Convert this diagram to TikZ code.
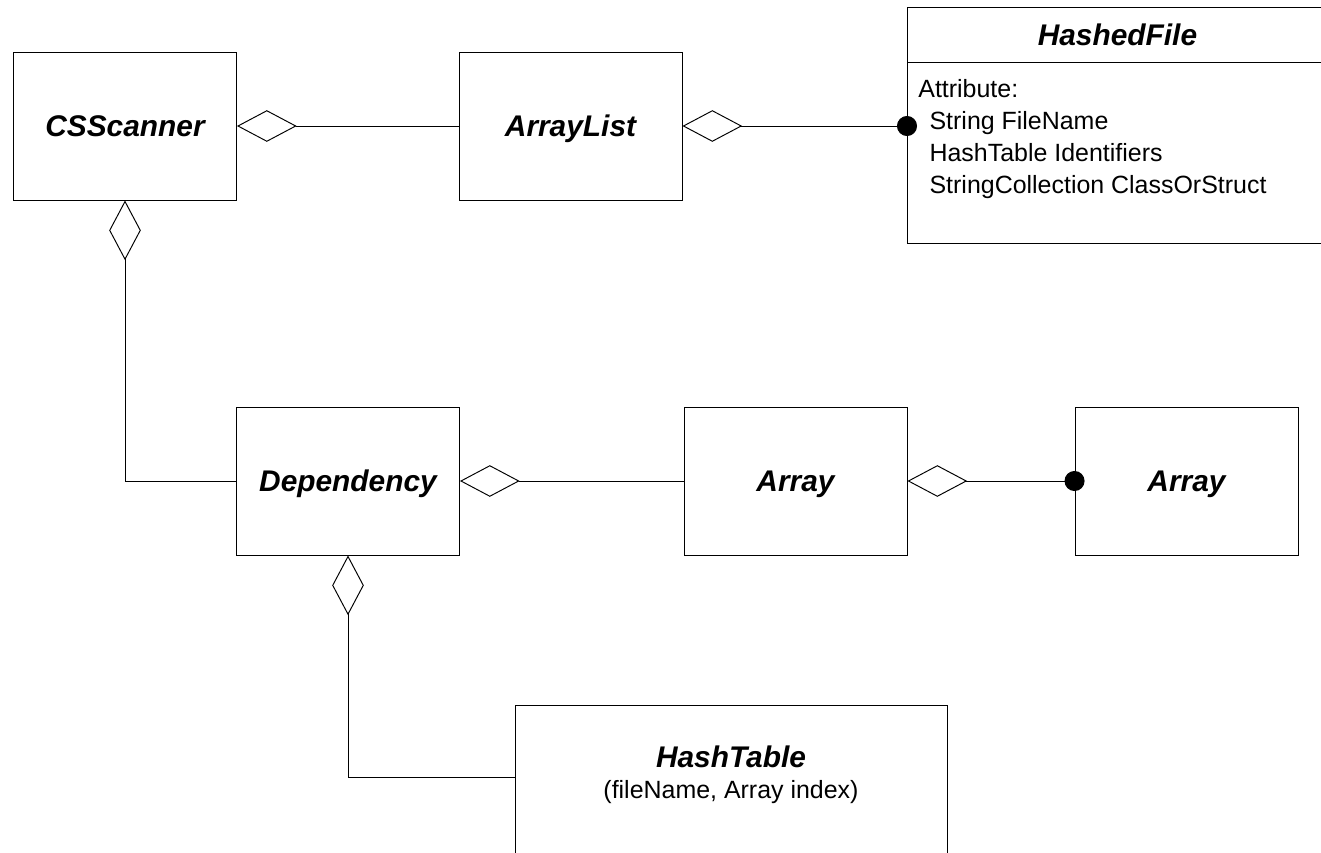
\documentclass[tikz,border=0pt]{standalone}
\usepackage{fontspec}
\setmainfont{Liberation Sans}
\usetikzlibrary{arrows.meta,calc}
\newcommand{\clsfont}{\bfseries\itshape\fontsize{17}{20}\selectfont}
\newcommand{\attrfont}{\fontsize{14.2}{18.2}\selectfont}
\tikzset{
    cls/.style={draw,line width=0.55pt,minimum width=4.46cm,minimum height=2.96cm,inner sep=0pt,font=\clsfont,text height=12.2pt,text depth=0pt},
    agg/.style={{Diamond[open,length=34pt,width=18pt]}-,line width=0.55pt},
    aggdot/.style={{Diamond[open,length=34pt,width=18pt]}-{Circle[length=11.4pt]},shorten >=-5.7pt,line width=0.55pt}
}

\begin{document}
\begin{tikzpicture}[x=0.02cm,y=-0.02cm]
    \useasboundingbox (0,0) rectangle (1321,852);
    % classes, top row
    \node[cls] (scanner) at (125,126) {CSScanner};
    \node[cls] (arraylist) at (570.5,126) {ArrayList};
    \node[cls,minimum width=8.4cm,minimum height=4.72cm,anchor=north west] (hashed) at (907,7) {};
    \node[font=\clsfont] (hashedname) at ($(hashed.north)+(0,28)$) {HashedFile};
    \draw[line width=0.55pt] ($(hashed.north west)+(0,55)$) -- ($(hashed.north east)+(0,55)$);
    \node[anchor=north west,align=left,inner sep=0pt,font=\attrfont] (attrs) at (918,79)
        {Attribute:\\\hspace{0.45em}String FileName\\\hspace{0.45em}HashTable Identifiers\\\hspace{0.45em}StringCollection ClassOrStruct};
    % classes, middle row
    \node[cls] (dependency) at (348,481) {Dependency};
    \node[cls] (array) at (795.5,481) {Array};
    \node[cls] (arrayitem) at (1186.5,481) {Array};
    % hash table
    \node[cls,minimum width=8.64cm,minimum height=3.3cm,anchor=north west] (hashtable) at (515,705) {};
    \node[align=center,anchor=north,inner sep=0pt,font=\attrfont] (hashkey) at (731,745)
        {{\clsfont HashTable}\\(fileName, Array index)};
    % aggregations
    \draw[agg] (scanner) -- (arraylist);
    \draw[aggdot] (arraylist.east) -- (arraylist.east -| hashed.west);
    \draw[agg] (scanner.south) |- (dependency.west);
    \draw[agg] (dependency) -- (array);
    \draw[aggdot] (array) -- (arrayitem);
    \draw[agg] (dependency.south) |- ($(hashtable.north west)+(0,72)$);
\end{tikzpicture}
\end{document}
